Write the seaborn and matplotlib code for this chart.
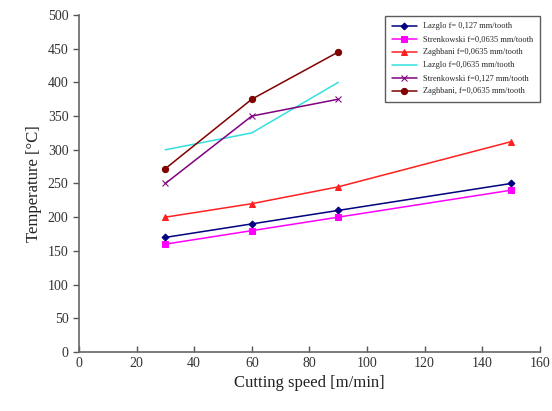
import matplotlib
matplotlib.use("Agg")
import matplotlib.pyplot as plt
import seaborn as sns
import pandas as pd

sns.set_style("white")
plt.rcParams['font.family'] = ['Liberation Serif', 'DejaVu Serif']

speed4 = [30, 60, 90, 150]
speed3 = [30, 60, 90]
laszlo_127 = [170, 190, 210, 250]
strenk_0635 = [160, 180, 200, 240]
zaghbani_0635_a = [200, 220, 245, 312]
laszlo_0635 = [300, 325, 400]
strenk_127 = [250, 350, 375]
zaghbani_0635_b = [272, 375, 445]

labels = ["Lazglo f= 0,127 mm/tooth",
          "Strenkowski f=0,0635 mm/tooth",
          "Zaghbani f=0,0635 mm/tooth",
          "Lazglo f=0,0635 mm/tooth",
          "Strenkowski f=0,127 mm/tooth",
          "Zaghbani, f=0,0635 mm/tooth"]

series = [(speed4, laszlo_127, "#000080", "D", 3.5),
          (speed4, strenk_0635, "#FF00FF", "s", 4),
          (speed4, zaghbani_0635_a, "#FF2020", "^", 4),
          (speed3, laszlo_0635, "#33E0E0", "", 3),
          (speed3, strenk_127, "#800080", "x", 4),
          (speed3, zaghbani_0635_b, "#800000", "o", 4.5)]

fig = plt.figure(figsize=(5.52, 4.11), dpi=100)
ax = fig.add_axes([0.143, 0.1436, 0.835, 0.82])

for (xs, ys, c, m, ms), lab in zip(series, labels):
    df = pd.DataFrame({"x": xs, "y": ys})
    sns.lineplot(data=df, x="x", y="y", ax=ax, color=c, marker=m if m else None,
                 markersize=ms, linewidth=1.1, label=lab,
                 markeredgecolor=c, markerfacecolor=c)

ax.set_xlim(0, 160)
ax.set_ylim(0, 500)
ax.set_xticks(range(0, 161, 20))
ax.set_yticks(range(0, 501, 50))
ax.set_xlabel("Cutting speed [m/min]", fontsize=12, color="#222222")
ax.set_ylabel("Temperature [°C]", fontsize=12, color="#222222")
ax.tick_params(axis='both', labelsize=10, labelcolor="#333333")
ax.tick_params(axis='y', direction='out', length=4, width=1, color="#555555", left=True)
ax.tick_params(axis='x', direction='in', length=4, width=1, color="#555555", bottom=True)
for s in ["top", "right"]:
    ax.spines[s].set_visible(False)
for s in ["left", "bottom"]:
    ax.spines[s].set_color("#666666")
    ax.spines[s].set_linewidth(1.2)

leg = ax.legend(loc="upper right", bbox_to_anchor=(1.01, 1.01), fontsize=6,
                frameon=True, fancybox=False, edgecolor="#333333",
                handlelength=3, borderpad=0.8, labelspacing=0.6)
leg.get_frame().set_linewidth(1.0)

fig.savefig("out.png", dpi=100)
